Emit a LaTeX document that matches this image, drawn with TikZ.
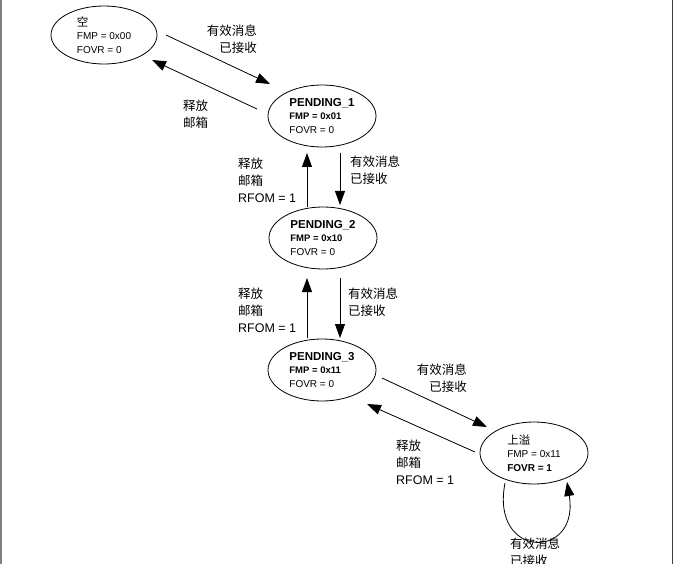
\documentclass[tikz,border=0pt]{standalone}
\usepackage{fontspec}
\setmainfont{Liberation Sans}
\newfontfamily\cjk{Noto Sans CJK SC}
\usepackage{tikz}
\usetikzlibrary{shapes.geometric,arrows.meta,calc}
\newcommand{\zh}[1]{{\cjk #1}}

\begin{document}
\begin{tikzpicture}[
  x=1pt,y=-1pt,
  state/.style={draw,ellipse,line width=0.8pt,minimum width=108pt,minimum height=62pt,inner sep=0pt,align=left,font=\fontsize{10}{13.5}\selectfont},
  lbl/.style={inner sep=0pt,font=\fontsize{12.5}{17}\selectfont},
  arr/.style={-{Triangle[length=14pt,width=10pt]},line width=0.8pt}
]
\useasboundingbox (0,0) rectangle (674,564);
\draw[line width=1.5pt,black!50] (1,0) -- (1,564);
\draw[line width=1.5pt,black!75] (672.5,0) -- (672.5,564);

% states
\node[state,minimum width=106pt,minimum height=58pt] (empty) at (104,35) {{\cjk\fontsize{11.5}{13.5}\selectfont 空}\\FMP = 0x00\\FOVR = 0};
\node[state] (p1) at (322,116) {{\bfseries\fontsize{11.5}{13.5}\selectfont PENDING\_1}\\{\bfseries\fontsize{9.5}{13.5}\selectfont FMP = 0x01}\\FOVR = 0};
\node[state] (p2) at (323,238) {{\bfseries\fontsize{11.5}{13.5}\selectfont PENDING\_2}\\{\bfseries\fontsize{9.5}{13.5}\selectfont FMP = 0x10}\\FOVR = 0};
\node[state] (p3) at (322,370) {{\bfseries\fontsize{11.5}{13.5}\selectfont PENDING\_3}\\{\bfseries\fontsize{9.5}{13.5}\selectfont FMP = 0x11}\\FOVR = 0};
\node[state] (over) at (534,453) {{\cjk\fontsize{11.5}{13.5}\selectfont 上溢}\\FMP = 0x11\\{\bfseries FOVR = 1}};

% labels
\node[lbl,anchor=north east,align=right] (recv1) at (257,25) {\zh{有效消息}\\\zh{已接收}};
\node[lbl,anchor=north west,align=left] (rel1) at (183,100) {\zh{释放}\\\zh{邮箱}};
\node[lbl,anchor=north west,align=left] (rel2) at (238,158) {\zh{释放}\\\zh{邮箱}\\RFOM = 1};
\node[lbl,anchor=north west,align=left] (recv2) at (350,156) {\zh{有效消息}\\\zh{已接收}};
\node[lbl,anchor=north west,align=left] (rel3) at (238,288) {\zh{释放}\\\zh{邮箱}\\RFOM = 1};
\node[lbl,anchor=north west,align=left] (recv3) at (348,288) {\zh{有效消息}\\\zh{已接收}};
\node[lbl,anchor=north east,align=right] (recv4) at (467,364) {\zh{有效消息}\\\zh{已接收}};
\node[lbl,anchor=north west,align=left] (rel4) at (396,440) {\zh{释放}\\\zh{邮箱}\\RFOM = 1};
\node[lbl,anchor=north west,align=left] (recv5) at (510,538) {\zh{有效消息}\\\zh{已接收}};

% transitions
\draw[arr] ($(empty)+(62,0)$) -- ($(p1)+(-52,-32)$);
\draw[arr] ($(p1)+(-65,-7)$) -- ($(empty)+(48,25)$);
\draw[arr] ($(p2)+(-16,-31)$) -- ($(p1)+(-15,37)$);
\draw[arr] ($(p1)+(18,37)$) -- ($(p2)+(17,-33)$);
\draw[arr] ($(p3)+(-15,-32)$) -- ($(p2)+(-16,40)$);
\draw[arr] ($(p2)+(17,40)$) -- ($(p3)+(18,-32)$);
\draw[arr] ($(p3)+(60,8)$) -- ($(over)+(-47,-26)$);
\draw[arr] ($(over)+(-59,-1)$) -- ($(p3)+(45,34)$);
\draw[arr] ($(over)+(-29,30)$) .. controls ($(over)+(-44,107)$) and ($(over)+(46,107)$) .. ($(over)+(33,29)$);
\end{tikzpicture}
\end{document}
